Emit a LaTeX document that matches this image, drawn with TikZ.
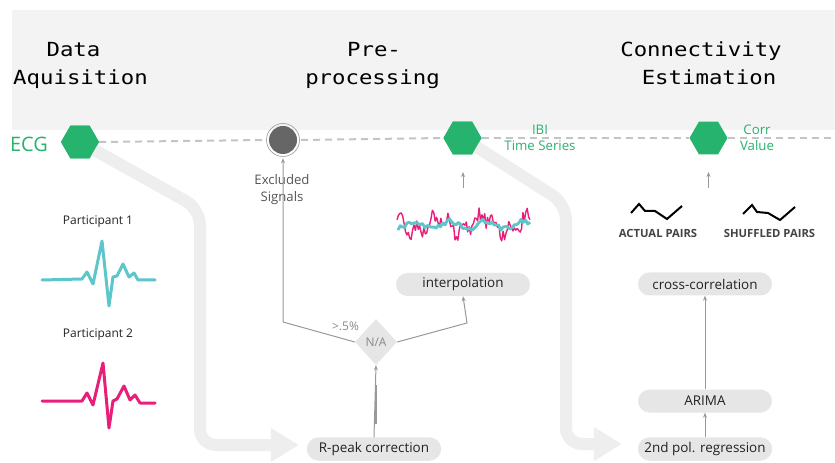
\documentclass[tikz,border=0pt]{standalone}
\usepackage{fontspec}
\setmainfont{Open Sans}
\newfontfamily\titlefont[FakeStretch=1.15]{DejaVu Sans Mono}
\usetikzlibrary{shapes.geometric,arrows.meta}
\definecolor{bandgray}{HTML}{F3F3F3}
\definecolor{hexgreen}{HTML}{26B36E}
\definecolor{pillgray}{HTML}{E6E6E6}
\definecolor{linegray}{HTML}{999999}
\definecolor{fatgray}{HTML}{EEEEEE}
\definecolor{dashgray}{HTML}{C4C4C4}
\definecolor{ecgcyan}{HTML}{5CC6CB}
\definecolor{ecgpink}{HTML}{E91E7A}
\definecolor{textdark}{HTML}{222222}
\tikzset{
  hexnode/.style={regular polygon, regular polygon sides=6, minimum size=38bp, inner sep=0pt, fill=hexgreen},
  pillnode/.style={rectangle, rounded corners=11.5bp, fill=pillgray, minimum width=134bp, minimum height=23bp, inner sep=0pt, text=textdark, font=\fontsize{13.5}{15}\selectfont},
  titletext/.style={anchor=base, inner sep=0pt, font=\titlefont\fontsize{19.5}{22}\selectfont, text=black},
  greentext/.style={text=hexgreen, inner sep=0pt, align=center, font=\fontsize{13.3}{16}\selectfont},
  thinarrow/.style={draw=linegray, line width=1bp, -{Stealth[length=5bp,width=4bp]}},
  fatarrow/.style={draw=fatgray, line width=12bp, rounded corners=16bp, -{Triangle[length=28bp,width=32bp]}},
  dashline/.style={draw=dashgray, line width=2bp, dash pattern=on 7bp off 5bp},
  ecgline/.style={line width=3bp, line join=round, line cap=round},
  smalltext/.style={inner sep=0pt, font=\fontsize{12}{14}\selectfont},
  pairtext/.style={inner sep=0pt, text={rgb,255:red,68;green,68;blue,68}, font=\bfseries\fontsize{11.3}{13}\selectfont},
  zigzag/.style={draw=black, line width=2bp, line join=miter}
}
\begin{document}
\begin{tikzpicture}[x=1bp,y=-1bp]
\useasboundingbox[fill=white] (0,0) rectangle (835,463);
% header band
\fill[bandgray] (12,10) rectangle (835,130);
\node[titletext] (t1a) at (73.5,57) {Data};
\node[titletext] (t1b) at (80.5,85) {Aquisition};
\node[titletext] (t2a) at (374,57) {Pre-};
\node[titletext] (t2b) at (372.5,85) {processing};
\node[titletext] (t3a) at (701,57) {Connectivity};
\node[titletext] (t3b) at (709,85) {Estimation};

% main nodes
\node[hexnode] (ecg) at (80,142) {};
\node[circle, fill={rgb,255:red,102;green,102;blue,102}, minimum size=28bp, inner sep=0pt] (excl) at (283,140) {};
\node[hexnode] (ibi) at (462.5,138) {};
\node[hexnode] (corr) at (708.5,138) {};
\node[pillnode] (rpeak) at (374,449) {R-peak correction};
\node[pillnode] (interp) at (463,284.5) {interpolation};
\node[pillnode] (xcorr) at (705,284) {cross-correlation};
\node[pillnode] (arima) at (705,401) {ARIMA};
\node[pillnode] (poly) at (705,449) {2nd pol. regression};
\node[diamond, fill=pillgray, minimum width=42bp, minimum height=46bp, inner sep=0pt] (na) at (376,342) {};
\node[smalltext, text={rgb,255:red,136;green,136;blue,136}] (natext) at (na.center) {N/A};

% fat flow arrows (behind)
\coordinate (c1) at (200,209);
\coordinate (c2) at (200,445);
\coordinate (c3) at (566,204);
\coordinate (c4) at (566,444);
\draw[fatarrow] (ecg.center) -- (c1) -- (c2) -- ([xshift=-8bp,yshift=4bp]rpeak.west);
\draw[fatarrow] (ibi.center) -- (c3) -- (c4) -- ([xshift=-16bp,yshift=5bp]poly.west);
% redraw nodes on top of fat arrows
\node[hexnode] (ecgtop) at (ecg.center) {};
\node[hexnode] (ibitop) at (ibi.center) {};
\node[pillnode] (rpeaktop) at (rpeak.center) {R-peak correction};
\node[pillnode] (polytop) at (poly.center) {2nd pol. regression};

% dashed timeline
\coordinate (dashend) at (835,138);
\draw[dashline] (ecg.east) -- ([xshift=-4bp]excl.west);
\draw[dashline] ([xshift=4bp]excl.east) -- (ibi.west);
\draw[dashline] (ibi.east) -- (corr.west);
\draw[dashline] (corr.east) -- (dashend);
\draw[linegray, line width=0.6bp] (excl.center) circle (16.5bp);

% labels
\node[text=hexgreen, inner sep=0pt, font=\fontsize{20}{22}\selectfont] (ecglabel) at (29,144) {ECG};
\node[greentext] (ibilabel) at (540,138) {IBI\\Time Series};
\node[greentext] (corrlabel) at (757,137.5) {Corr\\Value};
\node[inner sep=0pt, align=center, text={rgb,255:red,85;green,85;blue,85}, font=\fontsize{13.2}{17}\selectfont] (excltext) at (282,189.5) {Excluded\\Signals};

% decision arrows
\coordinate (lbend) at (283,322);
\coordinate (rbend) at (467,323);
\draw[thinarrow, shorten >=4bp] (na.west) -- (lbend) -- (excl.south);
\draw[thinarrow] (na.east) -- (rbend) -- (interp.south);
\draw[thinarrow] (rpeak.north) -- (na.south);
\coordinate (thk1) at (376,385);
\coordinate (thk2) at (376,424);
\draw[linegray, line width=2.8bp] (thk1) -- (thk2);
\node[smalltext, text={rgb,255:red,136;green,136;blue,136}] (pct) at (345.5,326) {>.5\%};

% small arrows up to hexagons
\coordinate (a1s) at (463,188);
\coordinate (a1e) at (463,172);
\coordinate (a2s) at (708.5,188);
\coordinate (a2e) at (708.5,172);
\draw[thinarrow] (a1s) -- (a1e);
\draw[thinarrow] (a2s) -- (a2e);

% right column arrows
\draw[thinarrow] (poly.north) -- (arima.south);
\draw[thinarrow] (arima.north) -- (xcorr.south);

% noise signal
\pgfmathsetseed{11}
\draw[ecgpink, line width=1.4bp, line join=round] plot[domain=397:530, samples=95] (\x, {225 + 7*sin(\x*8) + 5*sin(\x*23+40) + 7*rand});
\draw[ecgcyan, line width=2.8bp, line join=round] plot[domain=398:530, samples=60] (\x, {225 + 4*sin(\x*10+90) + 2.5*rand});

% participants
\node[smalltext, text=textdark] (p1) at (98,222) {Participant 1};
\node[smalltext, text=textdark] (p2) at (98,335) {Participant 2};
\draw[ecgline, ecgcyan] (42,280) -- (82,279) -- (87,272) -- (93,284) -- (102,241) -- (109,306) -- (113,277) -- (117,276) -- (123,264) -- (129,277) -- (134,273) -- (138,280) -- (155,280);
\draw[ecgline, ecgpink] (42,401) -- (82,401) -- (87,393) -- (93,405) -- (103,363) -- (109,428) -- (113,401) -- (117,399) -- (124,386) -- (130,400) -- (135,395) -- (140,403) -- (155,403);

% pairs icons
\draw[zigzag] (631,213) -- (639,204) -- (645,211) -- (655,211) -- (667,219) -- (682,206);
\draw[zigzag] (743,214) -- (752,205) -- (757,212) -- (768,213) -- (780,220) -- (795,207);
\node[pairtext] (actual) at (658,233) {ACTUAL PAIRS};
\node[pairtext] (shuffled) at (769.5,233) {SHUFFLED PAIRS};
\end{tikzpicture}
\end{document}
